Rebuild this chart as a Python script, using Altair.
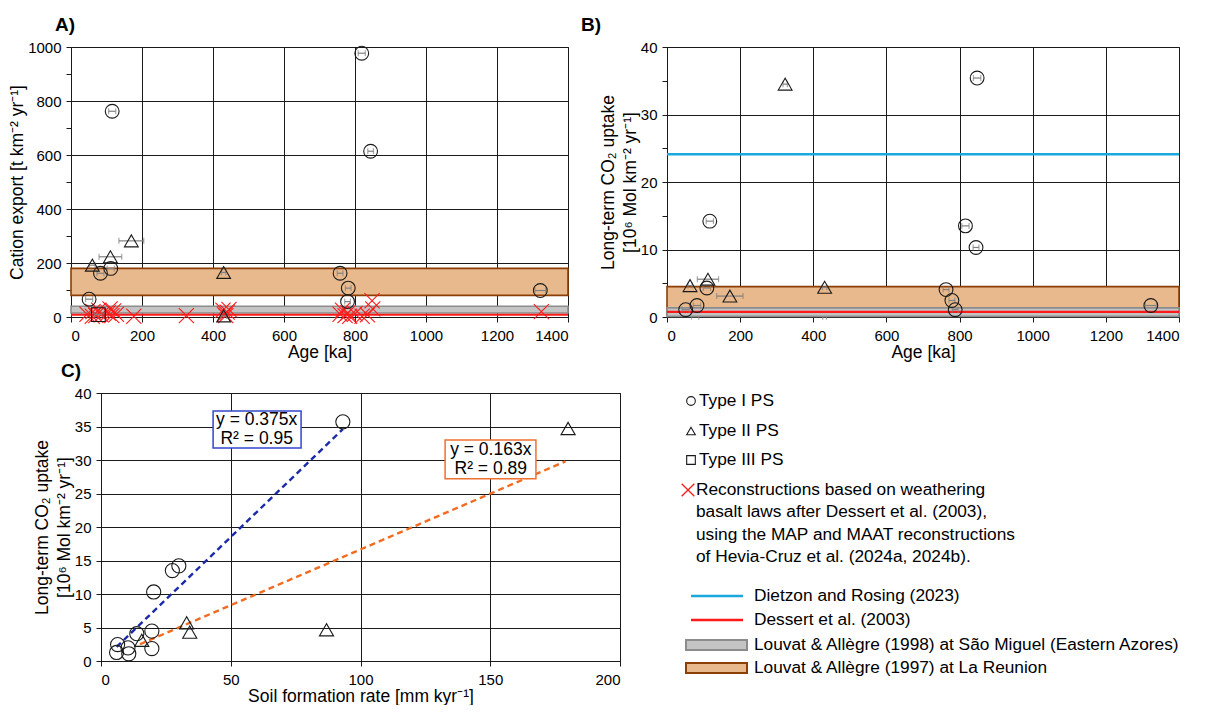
import altair as alt
import pandas as pd

FONT = "Liberation Sans"
BLACK = "#1a1a1a"
ERRC = "#808080"
XPATH = "M-1,-1L1,1M-1,1L1,-1"
RED = "#ff1a1a"
CYAN = "#1aa9dc"
ORANGE_FILL = "#e8b98c"
ORANGE_STROKE = "#8b3f05"
GRAY_FILL = "#c4c4c4"
GRAY_STROKE = "#8c8c8c"

# ---------------- Panel A: cation export vs age ----------------
A_CIRC_AGE = [51, 83, 112, 116, 758, 779, 781, 819, 844, 1322]
A_CIRC_VAL = [66, 162, 180, 762, 162, 57, 107, 977, 614, 98]
A_CIRC_ERR = [10, 10, 10, 10, 8, 8, 8, 10, 8, 15]
A_TRI_AGE = [60, 111, 170, 430, 430]
A_TRI_VAL = [192, 223, 282, 165, 4]
A_TRI_ERR = [8, 32, 35, 6, 8]
A_SQ_AGE = [77]
A_SQ_VAL = [9]
A_SQ_ERR = [10]
A_X_AGE = [45, 60, 62, 70, 78, 85, 105, 110, 115, 120, 128, 177, 325, 428, 432, 436,
           440, 445, 758, 765, 772, 780, 785, 800, 820, 835, 848, 850, 1325]
A_X_VAL = [10, 3, 20, 5, 25, 8, 15, 30, 5, 22, 10, 3, 5, 25, 10, 5,
           18, 28, 10, 25, 5, 15, 3, 12, 3, 8, 60, 30, 20]
A_ORANGE = [80, 180]
A_GRAY = [15, 40]
A_RED = 8

# ---------------- Panel B: CO2 uptake vs age ----------------
B_CIRC_AGE = [51, 82, 109, 117, 763, 779, 788, 816, 845, 848, 1323]
B_CIRC_VAL = [1.08, 1.7, 4.3, 14.2, 4.06, 2.45, 1.08, 13.5, 10.3, 35.4, 1.7]
B_CIRC_ERR = [10, 10, 10, 10, 8, 8, 8, 10, 8, 10, 15]
B_TRI_AGE = [63, 112, 172, 323, 431]
B_TRI_VAL = [4.65, 5.6, 3.1, 34.5, 4.4]
B_TRI_ERR = [6, 29, 36, 6, 6]
B_HID_AGE = [77, 431]
B_HID_VAL = [0.05, 0.05]
B_HID_ERR = [10, 5]
B_CYAN = 24.1
B_ORANGE = [0.3, 4.5]
B_GRAY = [0.1, 1.35]
B_RED = 0.75

# ---------------- Panel C: CO2 uptake vs soil formation rate ----------------
C_CIRC_SFR = [6.4, 6.0, 10.4, 10.7, 13.8, 19.6, 19.6, 20.3, 27.5, 30.0, 93.2]
C_CIRC_VAL = [2.45, 1.27, 1.96, 1.08, 4.07, 4.46, 1.86, 10.3, 13.5, 14.2, 35.7]
C_TRI_SFR = [15.7, 33.0, 34.2, 86.9, 180.0]
C_TRI_VAL = [3.09, 5.7, 4.3, 4.66, 34.7]
C_FIT1_X = [6.0, 93.2]
C_FIT1_Y = [2.1, 34.6]
C_FIT2_X = [15.0, 179.0]
C_FIT2_Y = [2.5, 29.8]
C_BOX1 = {"x": 43.2, "x2": 77.1, "y": 31.8, "y2": 37.3}
C_BOX2 = {"x": 132.6, "x2": 167.6, "y": 27.2, "y2": 33.0}
C_BOX1_TEXT = ["y = 0.375x", "R² = 0.95"]
C_BOX2_TEXT = ["y = 0.163x", "R² = 0.89"]
C_BOX1_TX = 60.0
C_BOX1_TY = [35.9, 33.1]
C_BOX2_TX = 150.2
C_BOX2_TY = [31.5, 28.6]

SHAPE_SCALE = alt.Scale(domain=["I", "II", "III"], range=["circle", "triangle-up", "square"])
Y_TITLE_CO2 = ["Long-term CO₂ uptake", "[10⁶ Mol km⁻² yr⁻¹]"]

# layout (pixels)
W_A, W_B, W_C, H_TOP, H_BOT = 497, 512, 519, 270, 268
GAP_AB = 99
GAP_ROWS = 0
SPACER_W, GAP_BOT = 20, 10


def make_xy(xdom, ydom, xaxis, yaxis):
    def X(field):
        return alt.X(f"{field}:Q", scale=alt.Scale(domain=xdom, nice=False, zero=False), axis=xaxis)

    def Y(field):
        return alt.Y(f"{field}:Q", scale=alt.Scale(domain=ydom, nice=False, zero=False), axis=yaxis)
    return X, Y


def minor_axis(major, minor, hi, title, **kw):
    return alt.Axis(
        values=[i * minor for i in range(int(hi / minor) + 1)],
        format="d",
        labelExpr=f"datum.value % {major} === 0 ? datum.label : ''",
        gridOpacity={"condition": {"test": f"datum.value % {major} === 0", "value": 1}, "value": 0},
        title=title, **kw)


def points_df(xs, ys, errs, typ):
    return pd.DataFrame({"x": xs, "y": ys, "lo": [a - e for a, e in zip(xs, errs)],
                         "hi": [a + e for a, e in zip(xs, errs)], "t": [typ] * len(xs)})


def error_layers(df, X, Y):
    rule = alt.Chart(df).mark_rule(color=ERRC, strokeWidth=1.2).encode(x=X("lo"), x2="hi", y=Y("y"))
    cap1 = alt.Chart(df).mark_tick(color=ERRC, orient="vertical", size=6, thickness=1.2).encode(x=X("lo"), y=Y("y"))
    cap2 = alt.Chart(df).mark_tick(color=ERRC, orient="vertical", size=6, thickness=1.2).encode(x=X("hi"), y=Y("y"))
    return [rule, cap1, cap2]


def point_layer(df, X, Y, size=190):
    return alt.Chart(df).mark_point(filled=False, color=BLACK, strokeWidth=1.1, size=size, opacity=1).encode(
        x=X("x"), y=Y("y"), shape=alt.Shape("t:N", scale=SHAPE_SCALE, legend=None))


def band(lo, hi, xmax, X, Y, fill, stroke):
    df = pd.DataFrame({"x": [0], "x2": [xmax], "y": [lo], "y2": [hi]})
    return alt.Chart(df).mark_rect(fill=fill, stroke=stroke, strokeWidth=1.6).encode(
        x=X("x"), x2="x2", y=Y("y"), y2="y2")


def hline(val, X, Y, color, width=2):
    df = pd.DataFrame({"y": [val]})
    return alt.Chart(df).mark_rule(color=color, strokeWidth=width).encode(y=Y("y"))


def panel_title(text, dx):
    return alt.TitleParams(text=text, anchor="start", frame="group", dx=dx, fontSize=19,
                           fontWeight="bold", font=FONT, color="black", offset=5)


AX_X = dict(labelPadding=6, titlePadding=0, tickSize=5, format="d")
AX_Y = dict(labelPadding=5, titlePadding=1, tickSize=5)

# ---------------- Build A ----------------
XA, YA = make_xy([0, 1400], [0, 1000],
                 alt.Axis(values=list(range(0, 1401, 200)), title="Age [ka]", **AX_X),
                 minor_axis(200, 100, 1000, "Cation export [t km⁻² yr⁻¹]", **AX_Y))
dA_c = points_df(A_CIRC_AGE, A_CIRC_VAL, A_CIRC_ERR, "I")
dA_t = points_df(A_TRI_AGE, A_TRI_VAL, A_TRI_ERR, "II")
dA_s = points_df(A_SQ_AGE, A_SQ_VAL, A_SQ_ERR, "III")
dA_all = pd.concat([dA_c, dA_t, dA_s], ignore_index=True)
dA_x = pd.DataFrame({"x": A_X_AGE, "y": A_X_VAL})
layersA = [
    band(A_ORANGE[0], A_ORANGE[1], 1400, XA, YA, ORANGE_FILL, ORANGE_STROKE),
    band(A_GRAY[0], A_GRAY[1], 1400, XA, YA, GRAY_FILL, GRAY_STROKE),
    hline(A_RED, XA, YA, RED),
    alt.Chart(dA_x).mark_point(shape=XPATH, size=230, color=RED, strokeWidth=1.1, filled=False, opacity=1)
    .encode(x=XA("x"), y=YA("y")),
] + error_layers(dA_all, XA, YA) + [point_layer(dA_all, XA, YA)]
chartA = alt.layer(*layersA).properties(width=W_A, height=H_TOP, title=panel_title("A)", -16))

# ---------------- Build B ----------------
XB, YB = make_xy([0, 1400], [0, 40],
                 alt.Axis(values=list(range(0, 1401, 200)), title="Age [ka]", **AX_X),
                 minor_axis(10, 5, 40, Y_TITLE_CO2, titleLineHeight=22, **AX_Y))
dB_c = points_df(B_CIRC_AGE, B_CIRC_VAL, B_CIRC_ERR, "I")
dB_t = points_df(B_TRI_AGE, B_TRI_VAL, B_TRI_ERR, "II")
dB_all = pd.concat([dB_c, dB_t], ignore_index=True)
dB_h = points_df(B_HID_AGE, B_HID_VAL, B_HID_ERR, "III")
layersB = error_layers(dB_h, XB, YB) + [
    hline(B_CYAN, XB, YB, CYAN, 2.5),
    band(B_ORANGE[0], B_ORANGE[1], 1400, XB, YB, ORANGE_FILL, ORANGE_STROKE),
    band(B_GRAY[0], B_GRAY[1], 1400, XB, YB, GRAY_FILL, GRAY_STROKE),
    hline(B_RED, XB, YB, RED, 2.2),
] + error_layers(dB_all, XB, YB) + [point_layer(dB_all, XB, YB)]
chartB = alt.layer(*layersB).properties(width=W_B, height=H_TOP, title=panel_title("B)", -86))

# ---------------- Build C ----------------
XC, YC = make_xy([0, 200], [0, 40],
                 alt.Axis(values=list(range(0, 201, 50)), title="Soil formation rate [mm kyr⁻¹]", **AX_X),
                 alt.Axis(values=list(range(0, 41, 5)), title=Y_TITLE_CO2, titleLineHeight=22, **AX_Y))
dC = pd.concat([
    pd.DataFrame({"x": C_CIRC_SFR, "y": C_CIRC_VAL, "t": ["I"] * len(C_CIRC_SFR)}),
    pd.DataFrame({"x": C_TRI_SFR, "y": C_TRI_VAL, "t": ["II"] * len(C_TRI_SFR)}),
], ignore_index=True)
fit1 = pd.DataFrame({"x": C_FIT1_X, "y": C_FIT1_Y})
fit2 = pd.DataFrame({"x": C_FIT2_X, "y": C_FIT2_Y})
box1 = pd.DataFrame([C_BOX1])
box2 = pd.DataFrame([C_BOX2])
txt1 = pd.DataFrame({"x": [C_BOX1_TX] * 2, "y": C_BOX1_TY, "s": C_BOX1_TEXT})
txt2 = pd.DataFrame({"x": [C_BOX2_TX] * 2, "y": C_BOX2_TY, "s": C_BOX2_TEXT})
layersC = [
    alt.Chart(fit1).mark_line(color="#1a2aa8", strokeDash=[6, 4], strokeWidth=2.4).encode(x=XC("x"), y=YC("y")),
    alt.Chart(fit2).mark_line(color="#f26b21", strokeDash=[6, 4], strokeWidth=2.4).encode(x=XC("x"), y=YC("y")),
    point_layer(dC, XC, YC, size=200),
    alt.Chart(box1).mark_rect(fill="white", stroke="#3344cc", strokeWidth=1.5).encode(
        x=XC("x"), x2="x2", y=YC("y"), y2="y2"),
    alt.Chart(box2).mark_rect(fill="white", stroke="#f07030", strokeWidth=1.5).encode(
        x=XC("x"), x2="x2", y=YC("y"), y2="y2"),
    alt.Chart(txt1).mark_text(font=FONT, fontSize=17.5, color="black").encode(x=XC("x"), y=YC("y"), text="s:N"),
    alt.Chart(txt2).mark_text(font=FONT, fontSize=17.5, color="black").encode(x=XC("x"), y=YC("y"), text="s:N"),
]
chartC = alt.layer(*layersC).properties(width=W_C, height=H_BOT, title=panel_title("C)", -40))

# ---------------- Legend panel (page-pixel layout) ----------------
LEG_W = 540
LEG_H = 290
LEG_X0 = 634   # page x of the legend panel's left edge
LEG_Y0 = 393   # page y of the legend panel's top edge
LEG_SYM_SHAPES = ["circle", "triangle-up", "square"]
LEG_SYM_LABELS = ["Type I PS", "Type II PS", "Type III PS"]
LEG_SYM_Y = [401, 431, 460]
LEG_SYM_X = 695
LEG_SYM_TX = 703
LEG_X_LINES = ["Reconstructions based on weathering", "basalt laws after Dessert et al. (2003),",
               "using the MAP and MAAT reconstructions", "of Hevia-Cruz et al. (2024a, 2024b)."]
LEG_X_Y = [490, 512, 535, 557]
LEG_X_X = 692
LEG_X_TX = 700
LEG_LINE_LABELS = ["Dietzon and Rosing (2023)", "Dessert et al. (2003)"]
LEG_LINE_COLORS = [CYAN, RED]
LEG_LINE_Y = [596, 620]
LEG_BAND_LABELS = ["Louvat & Allègre (1998) at São Miguel (Eastern Azores)",
                   "Louvat & Allègre (1997) at La Reunion"]
LEG_BAND_FILLS = [GRAY_FILL, ORANGE_FILL]
LEG_BAND_STROKES = [GRAY_STROKE, ORANGE_STROKE]
LEG_BAND_Y = [645, 668]
LEG_KEY_X = [690, 751]
LEG_KEY_TX = 758
LEG_FS = 17.3

LX = alt.X("x:Q", scale=alt.Scale(domain=[LEG_X0, LEG_X0 + LEG_W], nice=False, zero=False), axis=None)
LY = alt.Y("y:Q", scale=alt.Scale(domain=[LEG_Y0, LEG_Y0 + LEG_H], nice=False, zero=False, reverse=True), axis=None)
LX2 = alt.X2("x2:Q")
LY2 = alt.Y2("y2:Q")

leg_layers = []
sym_df = pd.DataFrame({"x": [LEG_SYM_X] * 3, "y": LEG_SYM_Y, "shape": LEG_SYM_SHAPES})
leg_layers.append(alt.Chart(sym_df).mark_point(filled=False, color=BLACK, strokeWidth=1.1, size=75, opacity=1).encode(
    x=LX, y=LY, shape=alt.Shape("shape:N", scale=None)))
leg_layers.append(alt.Chart(pd.DataFrame({"x": [LEG_X_X], "y": [LEG_X_Y[0]]})).mark_point(
    shape=XPATH, size=160, color=RED, strokeWidth=1.3, filled=False, opacity=1).encode(x=LX, y=LY))
txt_rows = ([(LEG_SYM_TX, y, s) for y, s in zip(LEG_SYM_Y, LEG_SYM_LABELS)]
            + [(LEG_X_TX, y, s) for y, s in zip(LEG_X_Y, LEG_X_LINES)]
            + [(LEG_KEY_TX, y, s) for y, s in zip(LEG_LINE_Y, LEG_LINE_LABELS)]
            + [(LEG_KEY_TX, y, s) for y, s in zip(LEG_BAND_Y, LEG_BAND_LABELS)])
txt_df = pd.DataFrame(txt_rows, columns=["x", "y", "s"])
leg_layers.append(alt.Chart(txt_df).mark_text(font=FONT, fontSize=LEG_FS, align="left", baseline="middle",
                                              color="black").encode(x=LX, y=LY, text="s:N"))
for y, c in zip(LEG_LINE_Y, LEG_LINE_COLORS):
    d = pd.DataFrame({"x": [LEG_KEY_X[0] + 5], "x2": [LEG_KEY_X[1] - 4], "y": [y]})
    leg_layers.append(alt.Chart(d).mark_rule(color=c, strokeWidth=2.5).encode(x=LX, x2=LX2, y=LY))
for y, f, s in zip(LEG_BAND_Y, LEG_BAND_FILLS, LEG_BAND_STROKES):
    d = pd.DataFrame({"x": [LEG_KEY_X[0]], "x2": [LEG_KEY_X[1]], "y": [y - 5], "y2": [y + 5]})
    leg_layers.append(alt.Chart(d).mark_rect(fill=f, stroke=s, strokeWidth=2).encode(x=LX, x2=LX2, y=LY, y2=LY2))
legend = alt.layer(*leg_layers).properties(width=LEG_W, height=LEG_H,
                                           view=alt.ViewBackground(stroke="transparent"))

spacer = alt.Chart(pd.DataFrame({"v": [0]})).mark_point(opacity=0, size=1).encode(
    x=alt.X("v:Q", axis=None), y=alt.Y("v:Q", axis=None)).properties(
    width=SPACER_W, height=10, view=alt.ViewBackground(stroke="transparent"))

top = alt.hconcat(chartA, chartB, spacing=GAP_AB, bounds="flush")
bottom = alt.hconcat(spacer, chartC, legend, spacing=GAP_BOT, bounds="flush")
chart = alt.vconcat(top, bottom, spacing=GAP_ROWS).properties(
    padding={"left": 0, "top": 7, "right": 0, "bottom": 0}
).configure(
    font=FONT
).configure_view(
    stroke=BLACK, strokeWidth=1
).configure_axis(
    labelFont=FONT, titleFont=FONT, labelFontSize=15, titleFontSize=17.5, titleFontWeight="normal",
    labelColor="black", titleColor="black", gridColor=BLACK, gridWidth=1, domainColor=BLACK,
    tickColor=BLACK, domainWidth=1
)

chart.save("out.html", embed_options={"renderer": "svg", "actions": False})
